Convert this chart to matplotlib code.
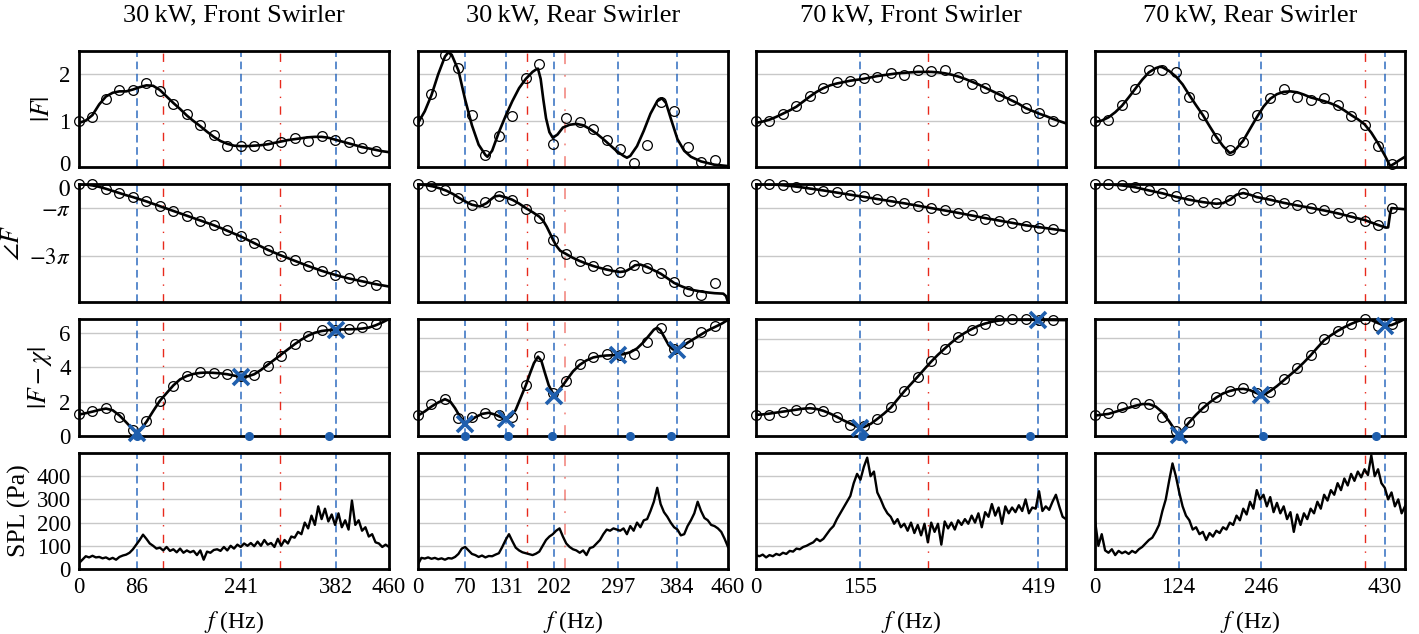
import numpy as np
import matplotlib.pyplot as plt
import matplotlib.transforms as mtransforms

plt.rcParams['font.family'] = ['Liberation Serif', 'DejaVu Serif']
plt.rcParams['mathtext.fontset'] = 'stix'

# measured points (every 20 Hz)
pts_f = [0, 20, 40, 60, 80, 100, 120, 140, 160, 180, 200, 220, 240, 260, 280, 300, 320, 340, 360, 380, 400, 420, 440]
spl_f = np.arange(0, 461, 5)
f10 = np.arange(0, 461, 10)

titles = ['30\u2009kW, Front Swirler', '30\u2009kW, Rear Swirler', '70\u2009kW, Front Swirler', '70\u2009kW, Rear Swirler']

# ---------------- 30 kW, front swirler
mag_pts_30f = [1.0, 1.08, 1.47, 1.65, 1.65, 1.81, 1.63, 1.35, 1.14, 0.90, 0.69, 0.45, 0.45, 0.45, 0.47, 0.54, 0.63, 0.56, 0.66, 0.59, 0.53, 0.41, 0.35]
phase_pts_30f = [0, 0, -0.2, -0.38, -0.55, -0.72, -0.92, -1.14, -1.34, -1.54, -1.73, -1.93, -2.18, -2.46, -2.76, -3.0, -3.2, -3.44, -3.65, -3.82, -3.96, -4.08, -4.23]
dist_pts_30f = [1.31, 1.45, 1.64, 1.11, 0.33, 0.86, 2.05, 2.91, 3.5, 3.73, 3.69, 3.59, 3.48, 3.55, 4.08, 4.67, 5.37, 5.82, 6.15, 6.19, 6.23, 6.35, 6.52]
mag_f_30f = f10
mag_30f = [0.95, 1.0, 1.12, 1.35, 1.52, 1.6, 1.63, 1.63, 1.67, 1.72, 1.76, 1.75, 1.66, 1.52, 1.38, 1.25, 1.11, 0.99, 0.88, 0.76, 0.65, 0.56, 0.5, 0.46,
           0.45, 0.45, 0.46, 0.47, 0.49, 0.52, 0.55, 0.58, 0.6, 0.62, 0.64, 0.65, 0.65, 0.63, 0.59, 0.55, 0.51, 0.47, 0.43, 0.4, 0.37, 0.34, 0.32]
phase_f_30f = f10
phase_30f = [0, -0.02, -0.06, -0.12, -0.2, -0.29, -0.38, -0.47, -0.55, -0.64, -0.73, -0.83, -0.93, -1.03, -1.13, -1.23, -1.33, -1.43, -1.53, -1.63,
             -1.73, -1.84, -1.96, -2.08, -2.2, -2.34, -2.48, -2.62, -2.76, -2.88, -3.0, -3.11, -3.22, -3.33, -3.44, -3.54, -3.64, -3.73, -3.81,
             -3.89, -3.96, -4.02, -4.08, -4.14, -4.2, -4.25, -4.3]
dist_f_30f = [0, 10, 20, 30, 40, 50, 60, 70, 80, 86, 90, 100, 110, 120, 130, 140, 150, 160, 170, 180, 190, 200, 210, 220, 230, 241,
              250, 260, 270, 280, 290, 300, 310, 320, 330, 340, 350, 360, 370, 382, 390, 400, 410, 420, 430, 440, 450, 460]
dist_30f = [1.25, 1.33, 1.42, 1.52, 1.6, 1.5, 1.2, 0.8, 0.38, 0.15, 0.3, 0.82, 1.45, 2.05, 2.5, 2.95, 3.3, 3.5, 3.62, 3.68, 3.7, 3.68, 3.65,
            3.6, 3.52, 3.45, 3.47, 3.6, 3.85, 4.15, 4.45, 4.75, 5.05, 5.35, 5.62, 5.85, 6.02, 6.12, 6.17, 6.2, 6.21, 6.22, 6.23, 6.26, 6.32,
            6.45, 6.62, 6.82]
spl_30f = [25, 40, 55, 50, 57, 50, 52, 46, 50, 42,
           48, 40, 52, 58, 62, 70, 85, 105, 125, 148,
           130, 110, 100, 88, 92, 80, 95, 78, 85, 72,
           88, 70, 80, 72, 78, 60, 80, 40, 75, 70,
           82, 85, 78, 95, 80, 100, 88, 105, 95, 110,
           100, 112, 98, 118, 100, 125, 105, 112, 95, 130,
           100, 125, 110, 140, 135, 160, 150, 200, 175, 230,
           190, 270, 215, 260, 205, 235, 190, 240, 180, 210,
           170, 295, 190, 210, 165, 180, 140, 150, 115, 110,
           95, 105, 95]
ticks_30f = [0, 86, 241, 382, 460]
blue_30f = [86, 241, 382]
red_30f = [125, 298]
pale_30f = []
cross_f_30f = [86, 241, 382]
cross_30f = [0.15, 3.45, 6.2]
dots_30f = [86, 253, 371]

# ---------------- 30 kW, rear swirler
mag_pts_30r = [1.0, 1.57, 2.42, 2.13, 1.12, 0.25, 0.66, 1.1, 1.91, 2.22, 0.5, 1.05, 0.97, 0.81, 0.59, 0.39, 0.09, 0.48, 1.4, 1.21, 0.44, 0.1, 0.15]
phase_pts_30r = [0, -0.1, -0.24, -0.58, -0.89, -0.76, -0.52, -0.68, -1.06, -1.42, -2.35, -2.92, -3.24, -3.45, -3.61, -3.69, -3.38, -3.51, -3.75, -4.13, -4.48, -4.65, -4.15]
dist_pts_30r = [1.29, 1.95, 2.26, 1.09, 1.17, 1.38, 1.29, 1.17, 3.14, 4.89, 2.6, 3.37, 4.39, 4.8, 5.0, 4.94, 5.04, 5.76, 6.59, 5.3, 5.71, 6.33, 6.73]
mag_f_30r = [0, 10, 20, 30, 40, 45, 50, 60, 70, 80, 90, 100, 103, 110, 120, 130, 140, 150, 160, 170, 175, 178, 182, 186, 190, 195, 200,
             207, 215, 225, 235, 245, 255, 265, 275, 285, 295, 305, 310, 315, 325, 335, 345, 355, 362, 368, 375, 385, 395, 405, 420, 440, 460]
mag_30r = [0.95, 1.2, 1.55, 2.0, 2.38, 2.47, 2.42, 2.08, 1.45, 0.9, 0.48, 0.26, 0.22, 0.35, 0.75, 1.1, 1.42, 1.7, 1.9, 2.05, 2.1, 2.12, 1.9,
           1.45, 1.05, 0.75, 0.63, 0.7, 0.85, 0.91, 0.93, 0.9, 0.82, 0.72, 0.6, 0.47, 0.34, 0.24, 0.2, 0.24, 0.45, 0.78, 1.15, 1.42, 1.48, 1.38,
           1.05, 0.6, 0.35, 0.22, 0.12, 0.05, 0.02]
phase_f_30r = [0, 10, 22, 32, 42, 52, 62, 72, 80, 92, 102, 108, 114, 121, 130, 140, 150, 160, 170, 180, 186, 191, 196, 200, 205, 211, 220,
               230, 240, 250, 260, 270, 280, 290, 300, 308, 315, 322, 330, 340, 350, 360, 370, 380, 390, 400, 410, 420, 430, 440, 453, 457, 460]
phase_30r = [0, -0.04, -0.1, -0.18, -0.28, -0.42, -0.6, -0.76, -0.87, -0.94, -0.8, -0.65, -0.52, -0.49, -0.56, -0.66, -0.82, -1.01, -1.18,
             -1.37, -1.55, -1.79, -2.08, -2.32, -2.58, -2.8, -2.94, -3.1, -3.23, -3.34, -3.44, -3.52, -3.59, -3.65, -3.69, -3.66, -3.55, -3.41,
             -3.38, -3.48, -3.62, -3.76, -3.95, -4.15, -4.28, -4.39, -4.46, -4.51, -4.55, -4.58, -4.6, -4.7, -4.96]
dist_f_30r = [0, 10, 20, 30, 40, 48, 55, 62, 70, 78, 85, 95, 105, 115, 125, 131, 138, 145, 152, 160, 166, 172, 178, 183, 188, 194, 202,
              208, 215, 222, 230, 240, 250, 260, 270, 280, 290, 297, 305, 315, 325, 335, 345, 350, 355, 360, 366, 372, 378, 384, 392, 400,
              410, 420, 430, 440, 450, 460]
dist_30r = [1.25, 1.5, 1.8, 2.05, 2.25, 2.1, 1.7, 1.2, 0.75, 0.95, 1.15, 1.35, 1.42, 1.3, 1.12, 1.03, 1.2, 1.6, 2.3, 3.1, 3.8, 4.45, 4.85,
            4.6, 3.9, 3.1, 2.45, 2.75, 3.1, 3.5, 3.95, 4.35, 4.62, 4.8, 4.88, 4.92, 4.94, 4.96, 5.0, 5.12, 5.35, 5.75, 6.25, 6.5, 6.62, 6.45,
            6.0, 5.55, 5.3, 5.25, 5.45, 5.7, 5.95, 6.2, 6.45, 6.65, 6.85, 7.1]
spl_30r = [20, 48, 45, 50, 44, 48, 42, 46, 40, 47,
           45, 52, 65, 88, 95, 80, 65, 60, 52, 58,
           50, 56, 55, 62, 68, 95, 125, 150, 120, 92,
           80, 72, 68, 64, 60, 66, 75, 100, 125, 140,
           150, 165, 175, 140, 110, 95, 85, 80, 70, 80,
           60, 90, 95, 110, 125, 150, 170, 165, 175, 170,
           165, 175, 150, 185, 165, 200, 180, 210, 215, 250,
           290, 350, 280, 245, 225, 200, 180, 170, 145, 150,
           185, 210, 240, 290, 250, 220, 210, 190, 185, 175,
           160, 130, 95]
ticks_30r = [0, 70, 131, 202, 297, 384, 460]
blue_30r = [70, 131, 202, 297, 384]
red_30r = [161]
pale_30r = [218]
cross_f_30r = [70, 131, 202, 297, 384]
cross_30r = [0.72, 1.03, 2.45, 4.96, 5.24]
dots_30r = [70, 134, 199, 315, 375]

# ---------------- 70 kW, front swirler
mag_pts_70f = [1.0, 0.99, 1.14, 1.31, 1.53, 1.71, 1.83, 1.86, 1.92, 1.94, 2.03, 1.99, 2.09, 2.06, 2.08, 1.95, 1.79, 1.71, 1.53, 1.44, 1.27, 1.17, 0.99]
phase_pts_70f = [0, 0, -0.04, -0.11, -0.21, -0.28, -0.35, -0.45, -0.52, -0.63, -0.7, -0.8, -0.92, -1.01, -1.11, -1.23, -1.32, -1.45, -1.54, -1.62, -1.75, -1.83, -1.89]
dist_pts_70f = [1.32, 1.28, 1.49, 1.63, 1.74, 1.53, 1.14, 0.66, 0.6, 1.07, 1.76, 2.79, 3.66, 4.59, 5.37, 6.1, 6.55, 6.9, 7.14, 7.18, 7.18, 7.14, 7.12]
mag_f_70f = f10
mag_70f = [0.95, 0.98, 1.02, 1.08, 1.15, 1.22, 1.3, 1.41, 1.52, 1.62, 1.7, 1.76, 1.8, 1.83, 1.86, 1.88, 1.9, 1.93, 1.96, 1.98, 2.0, 2.02, 2.03,
           2.04, 2.05, 2.05, 2.05, 2.04, 2.02, 1.99, 1.95, 1.9, 1.84, 1.78, 1.71, 1.64, 1.57, 1.5, 1.43, 1.36, 1.27, 1.21, 1.15, 1.1, 1.04, 0.99, 0.94]
phase_f_70f = np.arange(0, 461, 20)
phase_70f = [0, -0.01, -0.05, -0.11, -0.19, -0.27, -0.36, -0.45, -0.54, -0.63, -0.72, -0.81, -0.91, -1.01, -1.11, -1.21, -1.32, -1.43,
             -1.53, -1.63, -1.73, -1.81, -1.89, -1.97]
dist_f_70f = [0, 10, 20, 30, 40, 50, 60, 70, 80, 90, 100, 110, 120, 130, 140, 150, 155, 160, 170, 180, 190, 200, 210, 220, 230, 240,
              250, 260, 270, 280, 290, 300, 310, 320, 330, 340, 350, 360, 370, 380, 400, 419, 440, 460]
dist_70f = [1.3, 1.33, 1.38, 1.44, 1.5, 1.56, 1.62, 1.68, 1.71, 1.66, 1.55, 1.38, 1.18, 0.96, 0.76, 0.58, 0.52, 0.55, 0.74, 1.05, 1.38, 1.75,
            2.25, 2.75, 3.2, 3.65, 4.12, 4.58, 5.0, 5.38, 5.75, 6.08, 6.35, 6.58, 6.78, 6.92, 7.03, 7.1, 7.13, 7.15, 7.15, 7.15, 7.14, 7.13]
spl_70f = [60, 55, 62, 50, 60, 55, 65, 60, 70, 65,
           78, 75, 88, 85, 95, 100, 108, 115, 130, 120,
           130, 150, 170, 185, 215, 240, 265, 290, 315, 370,
           410, 385, 440, 480, 400, 420, 330, 300, 265, 240,
           225, 195, 215, 180, 195, 165, 200, 155, 190, 145,
           195, 115, 200, 160, 195, 105, 205, 175, 200, 170,
           210, 190, 215, 195, 230, 200, 240, 180, 245, 225,
           280, 230, 265, 195, 270, 240, 265, 245, 275, 250,
           300, 240, 265, 260, 335, 250, 270, 255, 290, 320,
           270, 225, 215]
ticks_70f = [0, 155, 419]
blue_70f = [155, 419]
red_70f = [255]
pale_70f = []
cross_f_70f = [155, 419]
cross_70f = [0.52, 7.14]
dots_70f = [157, 406]

# ---------------- 70 kW, rear swirler
mag_pts_70r = [1.0, 1.01, 1.33, 1.69, 2.1, 2.08, 2.05, 1.5, 1.12, 0.62, 0.36, 0.53, 1.11, 1.49, 1.69, 1.51, 1.44, 1.48, 1.33, 1.1, 0.9, 0.46, 0.07]
phase_pts_70r = [0, -0.01, -0.03, -0.13, -0.25, -0.38, -0.52, -0.66, -0.75, -0.79, -0.66, -0.38, -0.54, -0.66, -0.8, -0.9, -0.99, -1.1, -1.23, -1.37, -1.54, -1.73, -1.01]
dist_pts_70r = [1.29, 1.38, 1.75, 1.99, 1.95, 1.17, 0.3, 0.88, 1.75, 2.4, 2.73, 2.94, 2.6, 2.67, 3.47, 4.15, 4.93, 5.91, 6.43, 6.84, 7.15, 6.75, 6.84]
mag_f_70r = [0, 10, 20, 30, 40, 50, 60, 70, 80, 90, 96, 100, 110, 120, 130, 140, 150, 160, 170, 180, 190, 200, 205, 210, 220, 230, 240,
             250, 260, 270, 280, 290, 300, 310, 320, 330, 340, 350, 360, 370, 380, 390, 400, 410, 420, 430, 438, 445, 452, 460]
mag_70r = [0.97, 1.0, 1.07, 1.18, 1.32, 1.5, 1.69, 1.88, 2.04, 2.13, 2.16, 2.15, 2.07, 1.95, 1.78, 1.55, 1.33, 1.12, 0.88, 0.65, 0.45, 0.3,
           0.33, 0.4, 0.57, 0.82, 1.07, 1.3, 1.47, 1.57, 1.62, 1.63, 1.61, 1.56, 1.5, 1.46, 1.42, 1.37, 1.31, 1.22, 1.12, 1.03, 0.92, 0.74,
           0.51, 0.25, 0.02, 0.08, 0.15, 0.22]
phase_f_70r = [0, 20, 40, 60, 80, 100, 120, 140, 160, 180, 190, 200, 210, 220, 230, 240, 260, 280, 300, 320, 340, 360, 380, 400, 420,
               432, 435, 438, 440, 460]
phase_70r = [0, -0.01, -0.06, -0.14, -0.27, -0.39, -0.54, -0.66, -0.76, -0.83, -0.8, -0.66, -0.45, -0.38, -0.45, -0.55, -0.66, -0.79,
             -0.9, -1.0, -1.11, -1.23, -1.37, -1.51, -1.72, -1.83, -1.82, -1.23, -1.01, -1.06]
dist_f_70r = [0, 20, 40, 60, 70, 80, 90, 100, 110, 118, 124, 130, 140, 150, 160, 170, 180, 190, 200, 210, 220, 230, 240, 246, 252, 260,
              270, 280, 290, 300, 310, 320, 330, 340, 350, 360, 370, 380, 390, 400, 410, 420, 430, 440, 450, 460]
dist_70r = [1.25, 1.35, 1.6, 1.85, 1.95, 1.95, 1.8, 1.45, 0.9, 0.4, 0.05, 0.35, 0.85, 1.3, 1.7, 2.05, 2.35, 2.6, 2.75, 2.85, 2.88, 2.8,
            2.62, 2.53, 2.55, 2.75, 3.05, 3.4, 3.75, 4.1, 4.5, 4.93, 5.4, 5.85, 6.15, 6.42, 6.65, 6.85, 7.02, 7.13, 7.08, 6.9, 6.73, 6.78,
            6.95, 7.15]
spl_70r = [210, 100, 150, 80, 70, 85, 60, 78, 68, 75,
           65, 78, 70, 85, 95, 110, 125, 135, 160, 190,
           250, 300, 380, 455, 400, 330, 270, 230, 210, 170,
           180, 150, 160, 125, 155, 140, 165, 155, 180, 170,
           200, 190, 230, 210, 260, 235, 290, 260, 340, 300,
           320, 270, 310, 245, 285, 240, 270, 215, 245, 160,
           235, 190, 240, 215, 260, 240, 290, 260, 320, 295,
           340, 320, 370, 340, 390, 360, 410, 380, 420, 395,
           430, 405, 490, 400, 430, 370, 350, 300, 330, 270,
           300, 240, 270]
ticks_70r = [0, 124, 246, 430]
blue_70r = [124, 246, 430]
red_70r = [400]
pale_70r = []
cross_f_70r = [124, 246, 430]
cross_70r = [0.05, 2.53, 6.73]
dots_70r = [124.5, 249, 417]

dist_top = [6.82, 7.15, 7.2, 7.15]

cases = [
    (mag_pts_30f, phase_pts_30f, dist_pts_30f, mag_f_30f, mag_30f, phase_f_30f, phase_30f, dist_f_30f, dist_30f, spl_30f,
     ticks_30f, blue_30f, red_30f, pale_30f, cross_f_30f, cross_30f, dots_30f),
    (mag_pts_30r, phase_pts_30r, dist_pts_30r, mag_f_30r, mag_30r, phase_f_30r, phase_30r, dist_f_30r, dist_30r, spl_30r,
     ticks_30r, blue_30r, red_30r, pale_30r, cross_f_30r, cross_30r, dots_30r),
    (mag_pts_70f, phase_pts_70f, dist_pts_70f, mag_f_70f, mag_70f, phase_f_70f, phase_70f, dist_f_70f, dist_70f, spl_70f,
     ticks_70f, blue_70f, red_70f, pale_70f, cross_f_70f, cross_70f, dots_70f),
    (mag_pts_70r, phase_pts_70r, dist_pts_70r, mag_f_70r, mag_70r, phase_f_70r, phase_70r, dist_f_70r, dist_70r, spl_70r,
     ticks_70r, blue_70r, red_70r, pale_70r, cross_f_70r, cross_70r, dots_70r),
]

BLUE = '#2f6cc0'
MARK = '#1f5fae'
RED = '#e8291c'

W, H = 1419, 634
col_left = [79, 418, 756, 1095]
col_w = 310
row_top = [51, 184, 319, 453]
row_h = [116, 118, 117, 116]

fig = plt.figure(figsize=(W / 100, H / 100), dpi=100)


def nudge_zero_label(ax, dy_px):
    # keep the two stacked "0" labels of the first column apart
    lab = ax.yaxis.get_major_ticks()[0].label1
    lab.set_transform(lab.get_transform() + mtransforms.ScaledTranslation(0, dy_px / 100, fig.dpi_scale_trans))


for c, case in enumerate(cases):
    (mp, pp, dp, mf, mv, pf, pv, df, dv, spl, ticks, blue, red, pale, cf, cv, dots) = case
    fig.text((col_left[c] + col_w / 2) / W, 1 - 15 / H, titles[c], ha='center', va='center', fontsize=19)
    for r in range(4):
        ax = fig.add_axes([col_left[c] / W, 1 - (row_top[r] + row_h[r]) / H, col_w / W, row_h[r] / H])
        for s in ax.spines.values():
            s.set_linewidth(2)
        ax.set_xlim(0, 460)
        ax.set_xticks(ticks)
        ax.tick_params(length=0, labelsize=16.5, pad=6)
        ax.yaxis.grid(True, color='#c8c8c8', lw=1)
        ax.set_axisbelow(True)
        for x in blue:
            ax.axvline(x, color=BLUE, lw=1.1, dashes=(5, 3), zorder=1)
        for x in red:
            ax.axvline(x, color=RED, lw=1.0, dashes=(6, 6, 1, 6), zorder=1)
        for x in pale:
            ax.axvline(x, color=RED, alpha=0.5, lw=1.3, dashes=(6, 6, 1, 6), zorder=1)

        if r == 0:
            ax.plot(mf, mv, 'k-', lw=1.9, zorder=3)
            ax.plot(pts_f, mp, 'o', mfc='none', mec='k', ms=7, mew=0.9, clip_on=False, zorder=4)
            ax.set_ylim(0, 2.5)
            ax.set_yticks([0, 1, 2])
            ylabel = '$|F|$'
        elif r == 1:
            ax.plot(pf, pv, 'k-', lw=1.9, zorder=3)
            ax.plot(pts_f, pp, 'o', mfc='none', mec='k', ms=7, mew=0.9, clip_on=False, zorder=4)
            ax.set_ylim(-4.95, 0)
            ax.set_yticks([0, -1, -3])
            ax.set_yticklabels(['$0$', r'$-\pi$', r'$-3\pi$'])
            ylabel = r'$\angle F$'
        elif r == 2:
            ax.plot(df, dv, 'k-', lw=1.9, zorder=3)
            ax.plot(pts_f, dp, 'o', mfc='none', mec='k', ms=7, mew=0.9, clip_on=False, zorder=4)
            ax.plot(cf, cv, 'x', color=MARK, ms=11, mew=2.6, clip_on=False, zorder=6)
            ax.plot(dots, [0] * len(dots), 'o', color=MARK, ms=5.5, clip_on=False, zorder=6)
            ax.set_ylim(0, dist_top[c])
            ax.set_yticks([0, 2, 4, 6])
            ylabel = r'$|F-\chi|$'
        else:
            ax.plot(spl_f, spl, 'k-', lw=1.7, zorder=3)
            ax.set_ylim(0, 500)
            ax.set_yticks([0, 100, 200, 300, 400])
            ax.set_xlabel('$f$ (Hz)', fontsize=17, labelpad=8)
            ylabel = 'SPL (Pa)'

        if r < 3:
            ax.set_xticklabels([])
        if c == 0:
            ax.set_ylabel(ylabel, fontsize=18.5, labelpad=4)
            if r == 0:
                nudge_zero_label(ax, 4)
            elif r == 1:
                nudge_zero_label(ax, -4)
        else:
            ax.set_yticklabels([])

fig.savefig('out.png', dpi=100)
